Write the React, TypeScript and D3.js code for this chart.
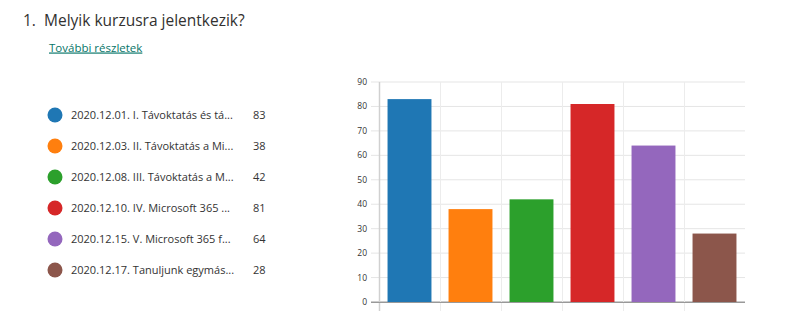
import React from "react";
import * as d3 from "d3";

const categories = [
  "2020.12.01. I. Távoktatás és tá...",
  "2020.12.03. II. Távoktatás a Mi...",
  "2020.12.08. III. Távoktatás a M...",
  "2020.12.10. IV. Microsoft 365 ...",
  "2020.12.15. V. Microsoft 365 f...",
  "2020.12.17. Tanuljunk egymás...",
];
const values = [83, 38, 42, 81, 64, 28];
const colors = ["#1f77b4", "#ff7f0e", "#2ca02c", "#d62728", "#9467bd", "#8c564b"];
const yTicks = [0, 10, 20, 30, 40, 50, 60, 70, 80, 90];
const titleNumber = "1.";
const title = "Melyik kurzusra jelentkezik?";
const linkText = "További részletek";

const W = 794;
const H = 332;
const FONT = "'Open Sans', 'Noto Sans', sans-serif";

export default function App() {
  const x = d3
    .scaleBand<number>()
    .domain(d3.range(categories.length))
    .range([379, 745])
    .paddingInner(0.28)
    .paddingOuter(0.14);
  const y = d3.scaleLinear().domain([0, 90]).range([302, 82]);
  const step = x.step();
  const gridXs = d3.range(categories.length).map((i) => 379 + i * step);

  return (
    <div style={{ position: "fixed", left: 0, top: 0, width: W, height: H, background: "#fff" }}>
      <svg width={W} height={H} style={{ display: "block", fontFamily: FONT }}>
        <rect width={W} height={H} fill="#fff" />
        <text x={23} y={26} fontSize={15.5} fill="#323130">
          {titleNumber}
        </text>
        <text x={44} y={26} fontSize={15.5} fill="#323130">
          {title}
        </text>
        <text x={49} y={51.5} fontSize={11.5} fill="#077568" textDecoration="underline">
          {linkText}
        </text>

        {categories.map((c, i) => {
          const cy = 115 + i * 31;
          return (
            <g key={c}>
              <circle cx={55} cy={cy} r={7.5} fill={colors[i]} />
              <text x={71} y={cy + 4} fontSize={11} fill="#333">
                {c}
              </text>
              <text x={253} y={cy + 4} fontSize={11} fill="#333">
                {values[i]}
              </text>
            </g>
          );
        })}

        {yTicks.map((t) => (
          <g key={t}>
            <line x1={371} x2={745} y1={y(t)} y2={y(t)} stroke={t === 0 ? "#999" : "#e5e5e5"} strokeWidth={1} />
            <text x={367} y={y(t) + 3} fontSize={8.5} fill="#333" textAnchor="end">
              {t}
            </text>
          </g>
        ))}
        {gridXs.map((gx, i) => (
          <line
            key={i}
            x1={gx + 0.5}
            x2={gx + 0.5}
            y1={y(90)}
            y2={311}
            stroke={i === 0 ? "#d0d0d0" : "#ececec"}
            strokeWidth={i === 0 ? 1.5 : 1}
          />
        ))}
        {values.map((v, i) => (
          <rect
            key={i}
            x={x(i)}
            y={y(v)}
            width={x.bandwidth()}
            height={y(0) - y(v)}
            fill={colors[i]}
          />
        ))}
        <line x1={371} x2={745} y1={y(0) + 0.5} y2={y(0) + 0.5} stroke="#999" />
      </svg>
    </div>
  );
}
